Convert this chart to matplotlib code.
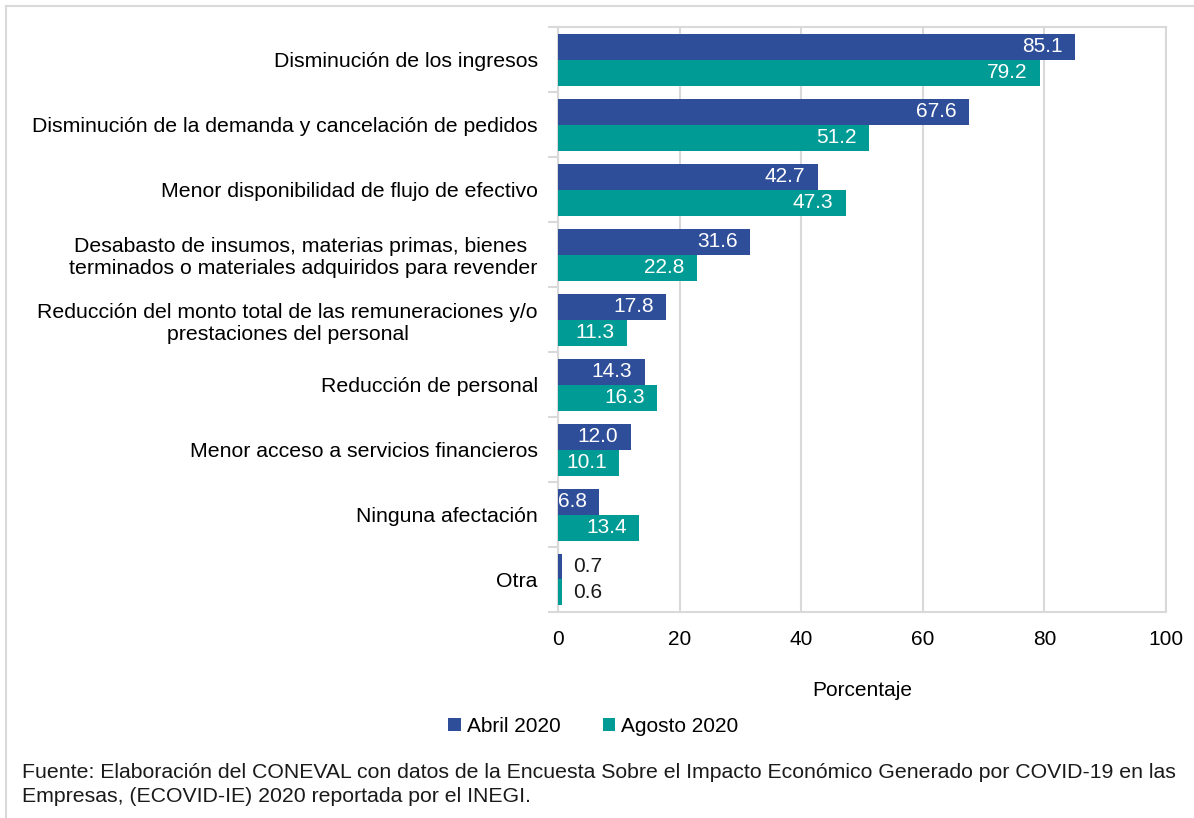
import matplotlib
matplotlib.use("Agg")
import matplotlib.pyplot as plt
import numpy as np
from matplotlib.lines import Line2D
from matplotlib.ticker import FixedLocator

plt.rcParams['font.family'] = ['Liberation Sans', 'DejaVu Sans']

categories = [
    "Disminución de los ingresos",
    "Disminución de la demanda y cancelación de pedidos",
    "Menor disponibilidad de flujo de efectivo",
    "Desabasto de insumos, materias primas, bienes \nterminados o materiales adquiridos para revender",
    "Reducción del monto total de las remuneraciones y/o\nprestaciones del personal",
    "Reducción de personal",
    "Menor acceso a servicios financieros",
    "Ninguna afectación",
    "Otra",
]
abril = [85.1, 67.6, 42.7, 31.6, 17.8, 14.3, 12.0, 6.8, 0.7]
agosto = [79.2, 51.2, 47.3, 22.8, 11.3, 16.3, 10.1, 13.4, 0.6]
series_names = ["Abril 2020", "Agosto 2020"]
xticks = [0, 20, 40, 60, 80, 100]

c_abril = "#2F4E99"
c_agosto = "#009B95"
grid_c = "#D9D9D9"
FS = 15
FS2 = 15.3

fig = plt.figure(figsize=(11.94, 8.18), dpi=100)
ax = fig.add_axes([558/1194, 1-612/818, (1166-558)/1194, (612-27)/818])

n = len(categories)
y = np.arange(n)
h = 0.4
ax.barh(y - h/2, abril, height=h, color=c_abril, label=series_names[0], zorder=3)
ax.barh(y + h/2, agosto, height=h, color=c_agosto, label=series_names[1], zorder=3)

ax.set_xlim(0, 100)
ax.set_ylim(n - 0.5, -0.5)
ax.set_xticks(xticks)
ax.set_xticklabels([str(t) for t in xticks], fontsize=FS)
ax.set_yticks(y)
ax.set_yticklabels(categories, fontsize=FS2)
for lab in ax.get_yticklabels():
    lab.set_multialignment('center')
ax.yaxis.set_minor_locator(FixedLocator(np.arange(-0.5, n, 1.0)))
ax.tick_params(axis='y', which='major', length=0, pad=14.5)
ax.tick_params(axis='y', which='minor', length=7, color=grid_c, width=1.5)
ax.tick_params(axis='x', length=0, pad=13)

ax.grid(axis='x', color=grid_c, linewidth=1.5, zorder=0)
for s in ax.spines.values():
    s.set_color(grid_c)
    s.set_linewidth(1.5)

ax.set_xlabel("Porcentaje", fontsize=FS, labelpad=23)

def label(vals, offset):
    for i, v in enumerate(vals):
        yy = i + offset
        if v < 3:
            ax.annotate(f"{v:.1f}", (v, yy), xytext=(8, 0), textcoords='offset points',
                        ha='left', va='center', fontsize=FS, color='#1a1a1a', zorder=4)
        else:
            ax.annotate(f"{v:.1f}", (v, yy), xytext=(-9, 0), textcoords='offset points',
                        ha='right', va='center', fontsize=FS, color='white', zorder=4)

label(abril, -h/2)
label(agosto, h/2)

fig.legend(loc='center', bbox_to_anchor=(0.497, 1-726/818), ncol=2, frameon=False,
           fontsize=FS, handlelength=0.6, handleheight=0.6, handletextpad=0.3,
           columnspacing=2.0)

fig.text(22/1194, 1-773/818, "Fuente: Elaboración del CONEVAL con datos de la Encuesta Sobre el Impacto Económico Generado por COVID-19 en las",
         fontsize=FS2, va='center', ha='left', color='#1a1a1a')
fig.text(22/1194, 1-797/818, "Empresas, (ECOVID-IE) 2020 reportada por el INEGI.",
         fontsize=FS2, va='center', ha='left', color='#1a1a1a')

fig.add_artist(Line2D([6/1194, 1], [1-6/818, 1-6/818], transform=fig.transFigure, color=grid_c, lw=1.5))
fig.add_artist(Line2D([6/1194, 6/1194], [0, 1-6/818], transform=fig.transFigure, color=grid_c, lw=1.5))

fig.savefig("out.png", dpi=100)
